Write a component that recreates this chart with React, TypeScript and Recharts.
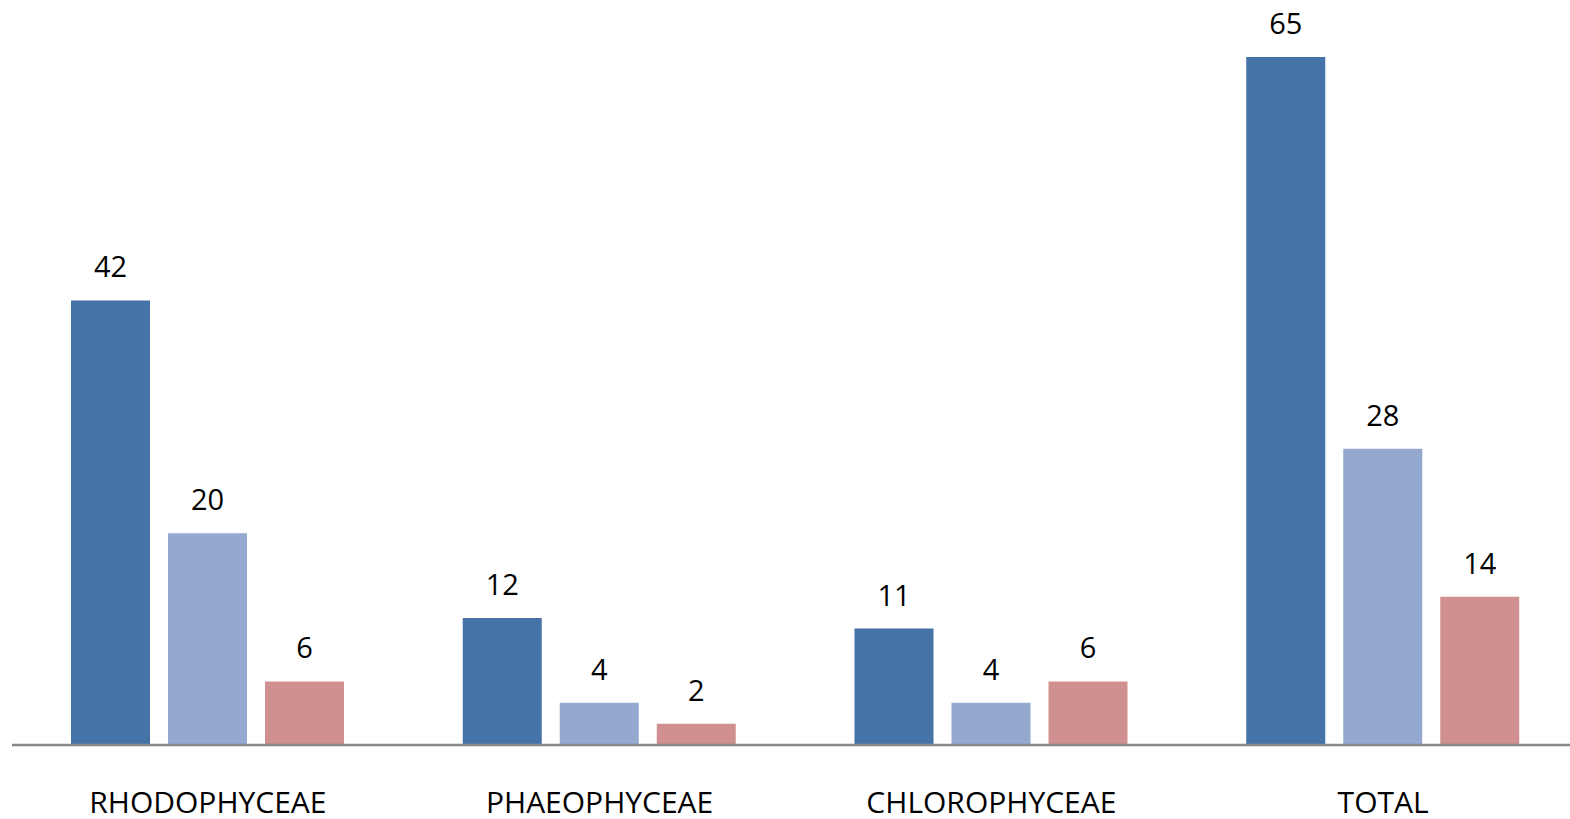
import { BarChart, Bar, XAxis, YAxis, LabelList } from 'recharts';

const categories = ['RHODOPHYCEAE', 'PHAEOPHYCEAE', 'CHLOROPHYCEAE', 'TOTAL'];
const seriesA = [42, 12, 11, 65];
const seriesB = [20, 4, 4, 28];
const seriesC = [6, 2, 6, 14];

const data = categories.map((name, i) => ({
  name,
  a: seriesA[i],
  b: seriesB[i],
  c: seriesC[i],
}));

const font = '"Open Sans", sans-serif';
const labelStyle = { fontFamily: font, fontSize: 29, fill: '#000' };

export default function App() {
  return (
    <div style={{ position: 'absolute', left: 0, top: 0, background: '#fff' }}>
      <BarChart
        width={1570}
        height={819}
        data={data}
        margin={{ top: 57, right: -9, left: 12, bottom: 0 }}
        barCategoryGap="15%"
        barGap={18}
      >
        <YAxis hide domain={[0, 65]} />
        <XAxis
          dataKey="name"
          height={74}
          tickLine={false}
          tickSize={0}
          tickMargin={47}
          axisLine={{ stroke: '#888888', strokeWidth: 2.5 }}
          tick={{ fontFamily: font, fontSize: 30, fill: '#000' }}
          interval={0}
        />
        <Bar dataKey="a" fill="#4673A7" barSize={79} isAnimationActive={false}>
          <LabelList dataKey="a" position="top" offset={23} style={labelStyle} />
        </Bar>
        <Bar dataKey="b" fill="#95A9D0" barSize={79} isAnimationActive={false}>
          <LabelList dataKey="b" position="top" offset={23} style={labelStyle} />
        </Bar>
        <Bar dataKey="c" fill="#D09090" barSize={79} isAnimationActive={false}>
          <LabelList dataKey="c" position="top" offset={23} style={labelStyle} />
        </Bar>
      </BarChart>
    </div>
  );
}
